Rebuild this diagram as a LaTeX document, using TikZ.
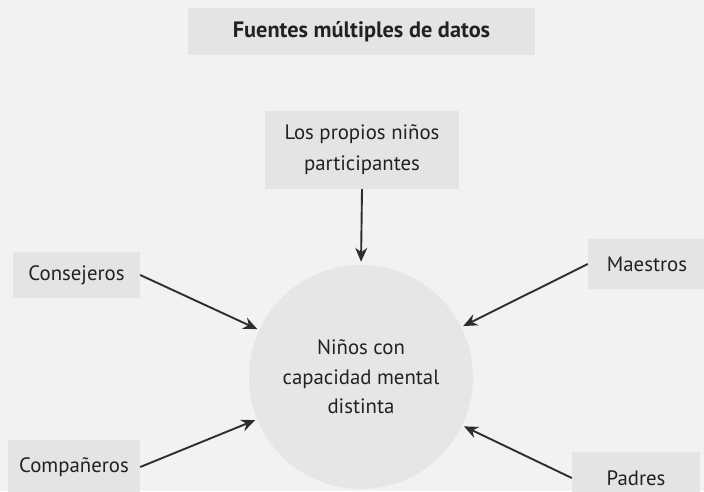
\documentclass[tikz,border=0pt]{standalone}
\usepackage{fontspec}
\setmainfont{PT Sans}
\usetikzlibrary{arrows.meta}
\definecolor{bgc}{HTML}{F2F2F2}
\definecolor{boxc}{HTML}{E4E4E4}
\definecolor{circc}{HTML}{E6E6E6}
\definecolor{txtc}{HTML}{222222}
\definecolor{arrc}{HTML}{2E2E2E}
\tikzset{
  srcbox/.style={fill=boxc, draw=none, text=txtc, font=\fontsize{20.8}{31}\selectfont, align=center, inner sep=0pt},
  conn/.style={draw=arrc, line width=1.9pt, -{Stealth[length=14pt,width=12pt]}}
}
\begin{document}
\begin{tikzpicture}[x=1pt,y=-1pt]
\useasboundingbox (0,0) rectangle (704,491);
\fill[bgc] (0,0) rectangle (704,491);
\begin{scope}
\clip (0,0) rectangle (704,491);
\node[srcbox, minimum width=347pt, minimum height=47pt, font=\fontsize{22.3}{27}\selectfont\bfseries] (title) at (361.5,31.5) {Fuentes múltiples de datos};
\node[srcbox, minimum width=194pt, minimum height=78pt] (prop) at (362,150) {Los propios niños\\participantes};
\node[srcbox, minimum width=127pt, minimum height=46pt] (cons) at (76.5,275) {Consejeros};
\node[srcbox, minimum width=118pt, minimum height=50pt] (maes) at (647,264) {Maestros};
\node[srcbox, minimum width=132pt, minimum height=54pt] (comp) at (74,467) {Compañeros};
\node[srcbox, minimum width=128pt, minimum height=52pt] (padr) at (636,478) {Padres};
\node[circle, fill=circc, minimum size=224pt, inner sep=0pt, text=txtc, align=center, font=\fontsize{20.8}{29.5}\selectfont] (circ) at (361,377) {Niños con\\capacidad mental\\distinta};
\end{scope}
\draw[conn, shorten >=3pt] (prop.south) -- (circ.north);
\draw[conn, shorten >=2pt] (cons.east) -- (circ);
\draw[conn, shorten >=2pt] (maes.west) -- (circ);
\draw[conn, shorten >=2pt] (comp.east) -- (circ);
\draw[conn, shorten >=2pt] (padr.west) -- (circ);
\end{tikzpicture}
\end{document}
